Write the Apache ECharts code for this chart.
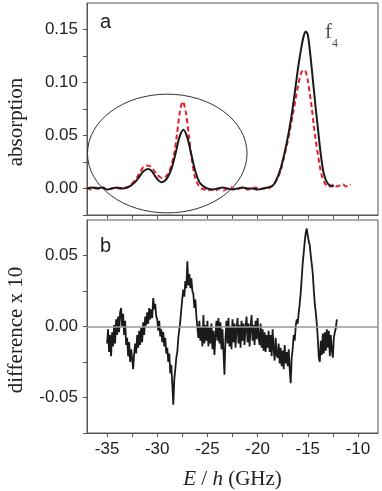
<!DOCTYPE html>
<html><head><meta charset="utf-8">
<script src="https://cdn.jsdelivr.net/npm/echarts@6/dist/echarts.min.js"></script>
<style>html,body{margin:0;padding:0;background:#fff}#c{width:382px;height:491px}</style>
</head><body><div id="c"></div>
<script>
// ---- tick / label values ----
const xTickValues = [-35,-32.5,-30,-27.5,-25,-22.5,-20,-17.5,-15,-12.5,-10];
const xLabelValues = [-35,-30,-25,-20,-15,-10];
const absTickValues = [-0.025,0,0.025,0.05,0.075,0.1,0.125,0.15];
const absLabelValues = [0,0.05,0.1,0.15];
const diffTickValues = [-0.075,-0.05,-0.025,0,0.025,0.05];
const diffLabelValues = [-0.05,0,0.05];

// ---- panel a: black solid (measured) ----
const blackX = [-37.0,-36.5,-36.0,-35.5,-35.0,-34.5,-34.0,-33.5,-33.0,-32.6,-32.2,-31.8,-31.4,-30.94,-30.6,-30.3,-30.0,-29.62,-29.3,-29.0,-28.6,-28.2,-27.8,-27.4,-27.0,-26.6,-26.2,-25.8,-25.4,-25.0,-24.5,-24.0,-23.5,-23.0,-22.5,-22.0,-21.5,-21.0,-20.5,-20.0,-19.5,-19.0,-18.6,-18.3,-18.0,-17.7,-17.4,-17.1,-16.8,-16.5,-16.2,-15.9,-15.6,-15.4,-15.2,-15.0,-14.8,-14.6,-14.4,-14.2,-14.0,-13.8,-13.6,-13.4,-13.1,-12.8,-12.4];
const blackY = [0.000,0.001,0.000,0.001,-0.001,0.000,0.001,0.000,0.001,0.003,0.006,0.011,0.016,0.0185,0.017,0.013,0.009,0.006,0.007,0.010,0.018,0.032,0.048,0.0555,0.048,0.032,0.016,0.006,0.002,0.000,-0.001,0.000,0.001,0.000,-0.001,0.000,0.001,0.000,0.000,-0.001,0.000,0.001,0.002,0.005,0.011,0.019,0.030,0.043,0.058,0.076,0.097,0.118,0.135,0.144,0.148,0.145,0.131,0.113,0.094,0.075,0.058,0.040,0.025,0.014,0.006,0.003,0.002];

// ---- panel a: red dashed (measured) ----
const redX = [-37.0,-36.6,-36.2,-35.8,-35.4,-35.0,-34.6,-34.2,-33.8,-33.4,-33.0,-32.6,-32.2,-31.8,-31.4,-31.04,-30.7,-30.4,-30.0,-29.55,-29.2,-28.9,-28.65,-28.35,-28.05,-27.75,-27.45,-27.15,-26.85,-26.55,-26.25,-25.95,-25.6,-25.3,-25.0,-24.6,-24.2,-23.8,-23.4,-23.0,-22.6,-22.2,-21.8,-21.4,-21.0,-20.6,-20.2,-19.8,-19.4,-19.0,-18.6,-18.3,-18.0,-17.7,-17.4,-17.1,-16.8,-16.5,-16.2,-16.0,-15.8,-15.6,-15.4,-15.2,-15.0,-14.8,-14.6,-14.4,-14.2,-14.0,-13.8,-13.6,-13.3,-13.0,-12.7,-12.4,-12.1,-11.8,-11.5,-11.2,-10.9,-10.7];
const redY = [0.001,-0.001,0.001,0.000,0.001,-0.001,0.000,0.001,0.000,0.001,0.001,0.004,0.008,0.014,0.020,0.0216,0.021,0.018,0.013,0.010,0.011,0.014,0.020,0.031,0.050,0.072,0.082,0.072,0.050,0.027,0.011,0.004,0.000,-0.001,-0.002,-0.001,-0.002,0.000,-0.002,0.000,0.001,-0.001,0.000,0.001,-0.001,0.000,0.001,-0.001,0.000,0.000,0.002,0.005,0.010,0.017,0.028,0.040,0.054,0.069,0.085,0.095,0.104,0.110,0.112,0.110,0.102,0.090,0.076,0.060,0.045,0.033,0.021,0.012,0.005,0.002,0.002,0.004,0.002,0.003,0.004,0.002,0.003,0.004];

// ---- panel b: difference x 10 (measured) ----
const diffX = [
-35.0,-34.9,-34.8,-34.7,-34.6,-34.5,-34.4,-34.3,-34.2,-34.1,
-34.0,-33.9,-33.8,-33.7,-33.6,-33.5,-33.4,-33.3,-33.2,-33.1,
-33.0,-32.9,-32.8,-32.7,-32.6,-32.5,-32.4,-32.3,-32.2,-32.1,
-32.0,-31.9,-31.8,-31.7,-31.6,-31.5,-31.4,-31.3,-31.2,-31.1,
-31.0,-30.9,-30.8,-30.7,-30.6,-30.5,-30.4,-30.3,-30.2,-30.1,
-30.0,-29.9,-29.8,-29.7,-29.6,-29.5,-29.4,-29.3,-29.2,-29.1,
-29.0,-28.9,-28.8,-28.7,-28.6,-28.5,-28.4,-28.3,-28.2,-28.1,
-28.0,-27.9,-27.8,-27.7,-27.6,-27.5,-27.4,-27.3,-27.2,-27.1,
-27.0,-26.9,-26.8,-26.7,-26.6,-26.5,-26.4,-26.3,-26.2,-26.1,
-26.0,-25.9,-25.8,-25.7,-25.6,-25.5,-25.4,-25.3,-25.2,-25.1,
-25.0,-24.9,-24.8,-24.7,-24.6,-24.5,-24.4,-24.3,-24.2,-24.1,
-24.0,-23.9,-23.8,-23.7,-23.6,-23.5,-23.4,-23.3,-23.2,-23.1,
-23.0,-22.9,-22.8,-22.7,-22.6,-22.5,-22.4,-22.3,-22.2,-22.1,
-22.0,-21.9,-21.8,-21.7,-21.6,-21.5,-21.4,-21.3,-21.2,-21.1,
-21.0,-20.9,-20.8,-20.7,-20.6,-20.5,-20.4,-20.3,-20.2,-20.1,
-20.0,-19.9,-19.8,-19.7,-19.6,-19.5,-19.4,-19.3,-19.2,-19.1,
-19.0,-18.9,-18.8,-18.7,-18.6,-18.5,-18.4,-18.3,-18.2,-18.1,
-18.0,-17.9,-17.8,-17.7,-17.6,-17.5,-17.4,-17.3,-17.2,-17.1,
-17.0,-16.9,-16.8,-16.7,-16.6,-16.5,-16.4,-16.3,-16.2,-16.1,
-16.0,-15.9,-15.8,-15.7,-15.6,-15.5,-15.4,-15.3,-15.2,-15.1,
-15.0,-14.9,-14.8,-14.7,-14.6,-14.5,-14.4,-14.3,-14.2,-14.1,
-14.0,-13.9,-13.8,-13.7,-13.6,-13.5,-13.4,-13.3,-13.2,-13.1,
-13.0,-12.9,-12.8,-12.7,-12.6,-12.5,-12.4,-12.3,-12.2,-12.1];
const diffY = [
-0.012,-0.002,-0.018,-0.006,-0.021,-0.004,-0.014,0.001,-0.012,0.005,
-0.006,0.007,-0.004,0.010,0.013,0.000,0.009,-0.006,0.004,-0.013,
-0.008,-0.021,-0.011,-0.025,-0.016,-0.023,-0.030,-0.019,-0.012,-0.019,
-0.006,-0.015,-0.003,-0.013,-0.001,-0.011,0.003,-0.006,0.007,0.001,
0.010,0.002,0.013,0.005,0.012,0.006,0.020,0.012,0.016,0.007,
0.005,-0.003,0.004,-0.007,-0.002,-0.011,-0.004,-0.014,-0.008,-0.019,
-0.015,-0.025,-0.019,-0.033,-0.027,-0.041,-0.055,-0.037,-0.030,-0.022,
-0.018,-0.008,-0.002,0.004,0.012,0.020,0.026,0.021,0.032,0.027,
0.046,0.029,0.037,0.027,0.034,0.025,0.023,0.013,0.019,0.007,
0.006,-0.008,0.004,-0.010,0.000,-0.014,0.008,-0.012,0.001,-0.010,
0.004,-0.014,-0.001,-0.012,0.002,-0.016,-0.003,-0.020,-0.006,0.004,
-0.010,0.006,-0.012,0.003,-0.016,-0.002,-0.018,-0.034,-0.008,0.004,
-0.012,0.006,-0.014,0.000,-0.016,0.005,-0.011,0.002,-0.015,-0.002,
0.006,-0.012,0.001,-0.015,0.004,-0.010,0.002,-0.013,-0.001,0.007,
-0.011,0.002,-0.014,-0.001,0.008,-0.010,0.001,-0.013,0.004,-0.009,
0.006,-0.008,-0.013,0.002,-0.015,-0.002,-0.017,-0.004,-0.018,-0.006,
-0.015,-0.003,-0.018,-0.006,-0.021,-0.002,-0.016,-0.024,-0.008,-0.020,
-0.022,-0.012,-0.026,-0.015,-0.028,-0.017,-0.030,-0.013,-0.026,-0.018,
-0.028,-0.016,-0.030,-0.040,-0.022,-0.016,-0.006,-0.010,0.000,0.005,
0.002,0.010,0.016,0.024,0.034,0.045,0.052,0.060,0.066,0.069,
0.064,0.060,0.057,0.050,0.044,0.037,0.026,0.016,0.010,0.002,
-0.008,-0.022,-0.025,-0.010,-0.020,-0.005,-0.019,-0.004,-0.017,-0.002,
-0.015,-0.003,-0.021,-0.006,-0.017,-0.022,-0.008,-0.004,-0.001,0.005];

const pairs = (xs, ys) => xs.map((x, i) => [x, ys[i]]);

const SANS = '"Liberation Sans", Arial, sans-serif';
const SERIF = '"Liberation Serif", "Times New Roman", serif';
const AX = '#555';

function xAxisCfg(gridIndex, showLabels) {
  return {
    type: 'value', gridIndex, min: -37, max: -8,
    axisLine: { show: true, onZero: false, lineStyle: { color: AX, width: 1 } },
    axisTick: { show: true, inside: false, length: 4, customValues: xTickValues, lineStyle: { color: AX } },
    axisLabel: { show: showLabels, customValues: xLabelValues, margin: 8, color: '#222', fontSize: 17, fontFamily: SANS,
      formatter: v => String(v) },
    splitLine: { show: false },
    name: showLabels ? '{i|E} / {i|h} (GHz)' : '',
    nameLocation: 'middle', nameGap: 36,
    nameTextStyle: { fontFamily: SERIF, fontSize: 21, color: '#222',
      rich: { i: { fontFamily: SERIF, fontStyle: 'italic', fontSize: 21, color: '#222' } } }
  };
}
function yAxisCfg(gridIndex, min, max, ticks, labels) {
  return {
    type: 'value', gridIndex, min, max,
    axisLine: { show: true, onZero: false, lineStyle: { color: AX, width: 1 } },
    axisTick: { show: true, inside: false, length: 4, customValues: ticks, lineStyle: { color: AX } },
    axisLabel: { customValues: labels, margin: 9, color: '#222', fontSize: 17, fontFamily: SANS,
      formatter: v => v.toFixed(2) },
    splitLine: { show: false }
  };
}

const chart = echarts.init(document.getElementById('c'), null, { renderer: 'canvas' });
const option = {
  animation: false,
  backgroundColor: '#fff',
  grid: [
    { left: 87, right: 4, top: 3, height: 212, show: true, borderColor: AX, borderWidth: 1, backgroundColor: 'transparent' },
    { left: 87, right: 4, top: 220, height: 213, show: true, borderColor: AX, borderWidth: 1, backgroundColor: 'transparent' }
  ],
  xAxis: [xAxisCfg(0, false), xAxisCfg(1, true)],
  yAxis: [
    yAxisCfg(0, -0.025, 0.175, absTickValues, absLabelValues),
    yAxisCfg(1, -0.075, 0.075, diffTickValues, diffLabelValues)
  ],
  series: [
    { type: 'line', xAxisIndex: 0, yAxisIndex: 0, data: pairs(redX, redY), showSymbol: false, smooth: 0.3,
      lineStyle: { color: '#e8202a', width: 2, type: [5, 3] }, z: 2 },
    { type: 'line', xAxisIndex: 0, yAxisIndex: 0, data: pairs(blackX, blackY), showSymbol: false, smooth: 0.3,
      lineStyle: { color: '#1a1a1a', width: 2 }, z: 3 },
    { type: 'line', xAxisIndex: 1, yAxisIndex: 1, data: pairs(diffX, diffY), showSymbol: false,
      lineStyle: { color: '#1a1a1a', width: 1.8 }, z: 3,
      markLine: { silent: true, symbol: 'none', label: { show: false },
        lineStyle: { color: '#999', width: 1.5, type: 'solid' }, data: [{ yAxis: 0 }] } }
  ]
};
chart.setOption(option);

// annotations (ellipse given in data coordinates of panel a)
const ellipseCenter = [-29.0, 0.033];
const ellipseRadius = [7.95, 0.056];
const c = chart.convertToPixel({ gridIndex: 0 }, ellipseCenter);
const e = chart.convertToPixel({ gridIndex: 0 }, [ellipseCenter[0] + ellipseRadius[0], ellipseCenter[1] + ellipseRadius[1]]);
chart.setOption({
  graphic: [
    { type: 'ellipse', shape: { cx: c[0], cy: c[1], rx: Math.abs(e[0] - c[0]), ry: Math.abs(e[1] - c[1]) },
      style: { fill: 'none', stroke: '#333', lineWidth: 1 }, z: 1 },
    { type: 'text', x: 100, y: 12, style: { text: 'a', font: '20px ' + SANS, fill: '#222' } },
    { type: 'text', x: 100, y: 236, style: { text: 'b', font: '20px ' + SANS, fill: '#222' } },
    { type: 'text', x: 325, y: 22, style: { text: '{f|f}{s|4}', rich: {
        f: { fontFamily: SERIF, fontSize: 21, fill: '#555', verticalAlign: 'top' },
        s: { fontFamily: SERIF, fontSize: 12, fill: '#555', padding: [16, 0, 0, 0] } } } },
    { type: 'text', x: 16, y: 122, rotation: Math.PI / 2,
      style: { text: 'absorption', font: '21px ' + SERIF, fill: '#222', align: 'center', verticalAlign: 'middle' } },
    { type: 'text', x: 16, y: 330, rotation: Math.PI / 2,
      style: { text: 'difference x 10', font: '21px ' + SERIF, fill: '#222', align: 'center', verticalAlign: 'middle' } }
  ]
});
</script>
</body></html>
